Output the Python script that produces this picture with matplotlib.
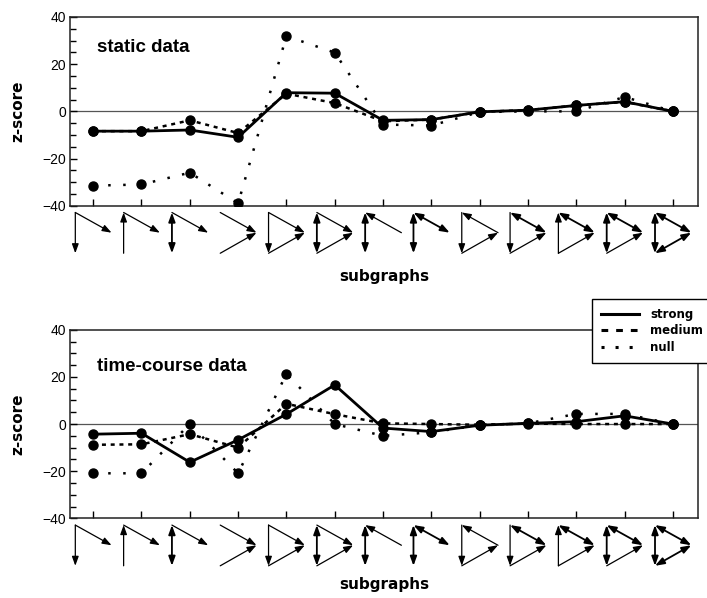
import matplotlib
matplotlib.use("Agg")
import matplotlib.pyplot as plt
import matplotlib.transforms as mtransforms
from matplotlib.patches import FancyArrowPatch
from matplotlib.lines import Line2D
from matplotlib.ticker import MultipleLocator

plt.rcParams['font.family'] = ['Liberation Sans', 'DejaVu Sans']

# 13 three-node subgraphs (x positions 0..12)
subgraph_idx = list(range(13))

# static data z-scores
static_strong = [-8.4, -8.4, -7.9, -11.0, 7.9, 7.7, -3.8, -3.5, -0.2, 0.5, 2.5, 4.1, 0.0]
static_medium = [-8.4, -8.4, -3.8, -9.2, 7.5, 3.5, -4.2, -3.5, -0.2, 0.5, 2.5, 4.0, 0.0]
static_null = [-31.5, -31.0, -26.0, -39.0, 31.9, 24.9, -5.6, -6.0, -0.3, 0.0, 0.0, 6.1, 0.0]

# time-course data z-scores
tc_strong = [-4.3, -3.9, -16.2, -6.7, 4.2, 16.6, -1.7, -3.2, -0.5, 0.3, 1.0, 3.5, 0.0]
tc_medium = [-8.8, -8.6, -4.3, -10.0, 8.6, 4.2, 0.3, 0.0, -0.3, 0.2, 0.0, 0.0, 0.0]
tc_null = [-20.9, -20.9, 0.0, -20.9, 21.3, 0.0, -5.0, -3.5, -0.5, 0.3, 4.3, 4.3, 0.0]

# edges of each subgraph icon: A top-left, B bottom-left, C right; ">" one way, "=" both ways
subgraph_edges = [
    ["A>B", "A>C"],
    ["B>A", "A>C"],
    ["A=B", "A>C"],
    ["A>C", "B>C"],
    ["A>B", "A>C", "B>C"],
    ["A=B", "A>C", "B>C"],
    ["A=B", "C>A"],
    ["A=B", "A=C"],
    ["A>B", "C>A", "B>C"],
    ["A>B", "A=C", "B>C"],
    ["B>A", "A=C", "B>C"],
    ["A=B", "A=C", "B>C"],
    ["A=B", "A=C", "B=C"],
]

series_names = ["strong", "medium", "null"]

line_styles = {
    "strong": dict(ls='-', lw=2.0),
    "medium": dict(ls=(0, (1.6, 1.9)), lw=1.8),
    "null": dict(ls=(0, (1, 5)), lw=1.8),
}

fig = plt.figure(figsize=(7.07, 5.98), dpi=100)
W, H = 707.0, 598.0
ax1 = fig.add_axes([70 / W, 1 - 205.7 / H, 628 / W, 188.7 / H])
ax2 = fig.add_axes([70 / W, 1 - 518.3 / H, 628 / W, 188.5 / H])


def draw_icons(ax):
    tr = mtransforms.blended_transform_factory(ax.transData, ax.transAxes)
    nx = {"A": -0.37, "B": -0.37, "C": 0.38}
    ny = {"A": -0.036, "B": -0.252, "C": -0.143}
    for i, edges in zip(subgraph_idx, subgraph_edges):
        for e in edges:
            a, kind, b = e[0], e[1], e[2]
            style = "-|>" if kind == ">" else "<|-|>"
            lw = 0.9 if kind == ">" else 1.3
            arr = FancyArrowPatch((i + nx[a], ny[a]), (i + nx[b], ny[b]),
                                  transform=tr,
                                  arrowstyle=style + ",head_length=0.55,head_width=0.2",
                                  mutation_scale=10, lw=lw, color='black',
                                  shrinkA=0, shrinkB=0, clip_on=False)
            ax.add_patch(arr)


def style_panel(ax, strong, medium, null, title, title_y):
    ax.axhline(0, color='#555555', lw=0.9, zorder=1)
    for name, vals in zip(series_names[::-1], [null, medium, strong]):
        ax.plot(subgraph_idx, vals, color='black', marker='o', ms=6.5,
                zorder=3, **line_styles[name])
    ax.set_xlim(-0.48, 12.52)
    ax.set_ylim(-40, 40)
    ax.yaxis.set_major_locator(MultipleLocator(20))
    ax.yaxis.set_minor_locator(MultipleLocator(5))
    ax.set_xticks(subgraph_idx)
    ax.set_xticklabels([])
    ax.tick_params(axis='both', which='both', direction='in', top=False, right=False)
    ax.tick_params(axis='y', which='major', length=5, width=1, labelsize=10, pad=3)
    ax.tick_params(axis='y', which='minor', length=4, width=1)
    ax.tick_params(axis='x', which='major', length=5, width=1)
    for sp in ax.spines.values():
        sp.set_linewidth(1.1)
        sp.set_color('#222222')
    ax.text(0.043, title_y, title, transform=ax.transAxes, fontsize=13.5,
            fontweight='bold', va='center', ha='left')
    draw_icons(ax)


style_panel(ax1, static_strong, static_medium, static_null, "static data", 0.836)
style_panel(ax2, tc_strong, tc_medium, tc_null, "time-course data", 0.805)

lab_font = dict(family='DejaVu Sans', weight='bold', size=11)
fig.text(18 / W, 1 - 111 / H, "z-score", rotation=90, ha='center', va='center', **lab_font)
fig.text(18 / W, 1 - 424 / H, "z-score", rotation=90, ha='center', va='center', **lab_font)
fig.text(384 / W, 1 - 277 / H, "subgraphs", ha='center', va='center', **lab_font)
fig.text(384 / W, 1 - 585 / H, "subgraphs", ha='center', va='center', **lab_font)

handles = [
    Line2D([], [], color='black', ls='-', lw=2.2),
    Line2D([], [], color='black', ls=(0, (2.2, 2.6)), lw=2.2),
    Line2D([], [], color='black', ls=(0, (1, 3.6)), lw=2.2),
]
leg = fig.legend(handles, series_names, loc='upper left',
                 bbox_to_anchor=(592 / W, 1 - 299 / H), borderaxespad=0,
                 frameon=True, fancybox=False, framealpha=1, edgecolor='black',
                 prop=dict(family='DejaVu Sans', weight='bold', size=8.5),
                 handlelength=3.2, handletextpad=1.0, labelspacing=0.3,
                 borderpad=0.75)
leg.get_frame().set_linewidth(1.0)

fig.savefig("out.png", dpi=100)
